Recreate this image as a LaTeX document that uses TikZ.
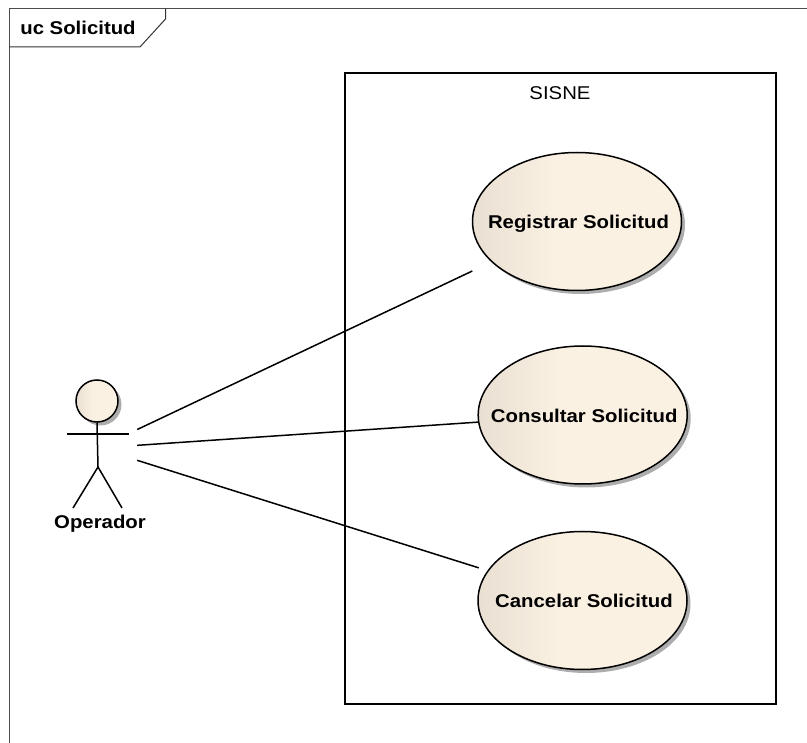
\documentclass[tikz,border=0pt]{standalone}
\usepackage{fontspec}
\setmainfont[FakeStretch=1.1]{Liberation Sans}
\usetikzlibrary{shapes.geometric,shadows}
\definecolor{usedark}{HTML}{E9DFD2}
\definecolor{uselight}{HTML}{FBF1E3}
\pgfdeclarehorizontalshading{useshade}{100bp}{color(0bp)=(usedark); color(25bp)=(usedark); color(45bp)=(uselight); color(100bp)=(uselight)}
\tikzset{
  umltext/.style={font=\fontsize{18.5}{20}\selectfont},
  umlbold/.style={font=\fontsize{18.5}{20}\selectfont\bfseries},
  usecase/.style={ellipse, draw=black, line width=1.5pt, shading=useshade, minimum width=209pt, minimum height=138pt, inner xsep=-25pt, inner ysep=0pt, text height=15pt, text depth=0pt, umlbold, drop shadow={shadow xshift=3.5pt, shadow yshift=-3.5pt, fill=black!32, opacity=1}},
  assoc/.style={black, line width=1.5pt},
}
\begin{document}
\begin{tikzpicture}[x=1pt,y=-1pt]
        \useasboundingbox (0,0) rectangle (807,743);
        \draw [black!70, line width=1pt] (9,743) -- (9,9) -- (807,9);
        \draw [black!80, line width=1pt] (9,47) -- (140,47) -- (165.5,19) -- (165.5,9);
        \node (frametitle) [umlbold, inner sep=0pt] at (78,28) {uc Solicitud};
        \node (sisne) [draw=black, line width=1.2pt, minimum width=431pt, minimum height=631pt, inner sep=0pt] at (560.5,388.5) {};
        \node (sisnetitle) [umltext, inner sep=0pt] at (560,93) {SISNE};
        \node (registrar) [usecase] at (577,221.5) {\hspace*{3pt}Registrar Solicitud};
        \node (consultar) [usecase] at (582.7,415) {\hspace*{3pt}Consultar Solicitud};
        \node (cancelar) [usecase] at (582.5,600.5) {\hspace*{3pt}Cancelar Solicitud};
        \node (head) [circle, draw=black, line width=1.5pt, shading=useshade, minimum size=42pt, inner sep=0pt, drop shadow={shadow xshift=3.5pt, shadow yshift=-3.5pt, fill=black!32, opacity=1}] at (97,401) {};
        \node (operador) [minimum width=78pt, minimum height=120pt, inner sep=0pt] at (98,448) {};
        \node (actorlabel) [umlbold, inner sep=0pt] at (100,523.5) {Operador};
        \coordinate (hip) at (98,467);
        \coordinate (armleft) at (67,434);
        \coordinate (armright) at (129,434);
        \coordinate (footleft) at (73,508);
        \coordinate (footright) at (122,508);
        \draw [assoc] (head.south) -- (hip);
        \draw [assoc] (armleft) -- (armright);
        \draw [assoc] (footleft) -- (hip) -- (footright);
        \draw [assoc, shorten >=21pt] (operador) -- (registrar);
        \draw [assoc] (operador) -- (consultar);
        \draw [assoc, shorten >=9pt] (operador) -- (cancelar);
      \end{tikzpicture}
\end{document}
